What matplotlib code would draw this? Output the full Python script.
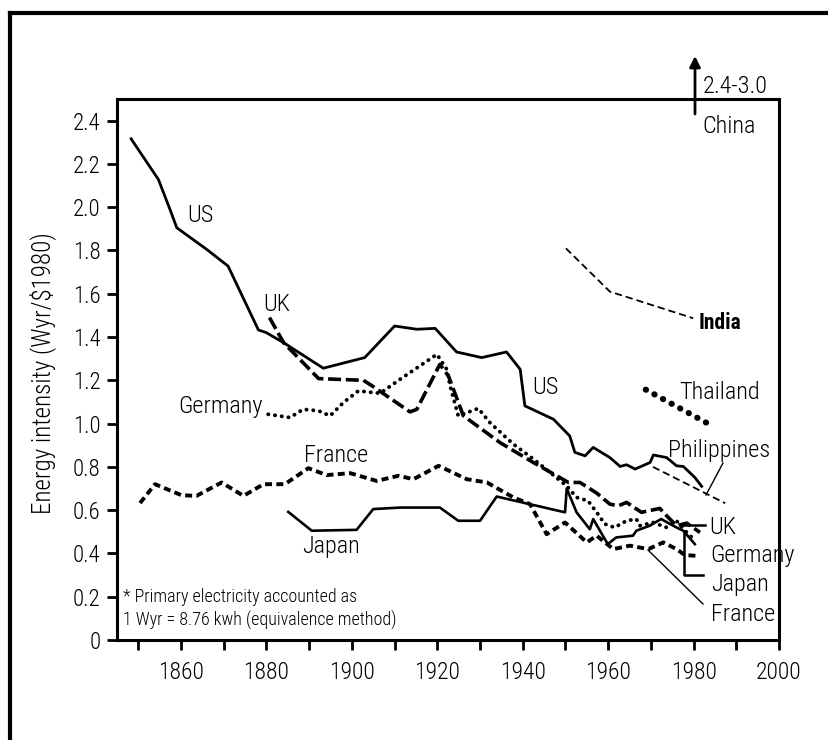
import matplotlib
matplotlib.use("Agg")
import matplotlib.pyplot as plt
from matplotlib.lines import Line2D

plt.rcParams['font.family'] = ['Roboto Condensed', 'Liberation Sans', 'DejaVu Sans']
plt.rcParams['font.weight'] = 300

# energy intensity (Wyr/$1980)
us_years = [1848.3, 1854.7, 1857.4, 1859, 1866, 1871, 1878.1, 1880, 1884, 1893.3, 1903, 1910,
            1915.2, 1919.5, 1924.5, 1930.4, 1936.2, 1939.4, 1940.5, 1947.2, 1951, 1952.2,
            1954.6, 1956.5, 1960.4, 1962.8, 1964.3, 1966.3, 1969.8, 1970.6, 1973.7, 1976,
            1977.6, 1980.3, 1981.9]
us_vals = [2.316, 2.128, 1.99, 1.905, 1.805, 1.728, 1.433, 1.42, 1.374, 1.256, 1.305, 1.451,
           1.436, 1.44, 1.331, 1.305, 1.331, 1.251, 1.082, 1.02, 0.943, 0.867,
           0.851, 0.89, 0.843, 0.802, 0.81, 0.79, 0.82, 0.855, 0.843, 0.805,
           0.802, 0.751, 0.71]

uk_years = [1880.7, 1884, 1892.2, 1902.7, 1905, 1913.6, 1915.2, 1920.6, 1922.6, 1926.1, 1934.7,
            1942.5, 1950.7, 1953.4, 1957.3, 1960.4, 1962.4, 1964.3, 1967.8, 1972.1, 1973.7,
            1976, 1978.4, 1981.5]
uk_vals = [1.49, 1.374, 1.208, 1.2, 1.171, 1.054, 1.066, 1.274, 1.22, 1.036, 0.912,
           0.82, 0.728, 0.728, 0.679, 0.628, 0.62, 0.636, 0.59, 0.608, 0.574,
           0.528, 0.54, 0.497]

de_years = [1880.4, 1885.5, 1888.6, 1892.2, 1894.9, 1898, 1901.5, 1906.6, 1911.3, 1919.9, 1922.2,
            1923, 1924.9, 1929.6, 1932.3, 1937.8, 1942.5, 1950.3, 1952.6, 1955.3, 1957.6,
            1959.2, 1961.5, 1964.3, 1966.6, 1967.4, 1970.5, 1973.7, 1976, 1978, 1979.6]
de_vals = [1.043, 1.028, 1.066, 1.059, 1.036, 1.097, 1.151, 1.14, 1.205, 1.32, 1.251,
           1.174, 1.036, 1.07, 1.005, 0.905, 0.836, 0.712, 0.659, 0.643, 0.582,
           0.536, 0.52, 0.551, 0.559, 0.528, 0.543, 0.52, 0.551, 0.505, 0.474]

fr_years = [1850.4, 1853.9, 1860.1, 1863.6, 1869.5, 1874.6, 1879.3, 1884.3, 1889.8, 1894.1,
            1899.6, 1905.8, 1910.9, 1914.4, 1920.3, 1926.9, 1931.6, 1937.8, 1941.7, 1945.6,
            1949.9, 1955, 1957.3, 1961.2, 1965.1, 1969.4, 1972.9, 1976, 1978, 1980.7]
fr_vals = [0.633, 0.72, 0.669, 0.666, 0.728, 0.666, 0.72, 0.72, 0.794, 0.762,
           0.771, 0.735, 0.759, 0.743, 0.805, 0.743, 0.728, 0.659, 0.628, 0.489,
           0.543, 0.451, 0.482, 0.42, 0.436, 0.42, 0.451, 0.42, 0.392, 0.389]

jp_years = [1885.1, 1890.6, 1901.1, 1905, 1911.3, 1920.6, 1924.9, 1930, 1933.9, 1949.9, 1950.3,
            1952.6, 1955.7, 1956.5, 1959.9, 1961.9, 1965.8, 1966.6, 1969.7, 1972.4, 1976,
            1977.6, 1980.3]
jp_vals = [0.592, 0.505, 0.509, 0.605, 0.612, 0.612, 0.551, 0.551, 0.663, 0.59, 0.70,
           0.59, 0.512, 0.559, 0.443, 0.474, 0.482, 0.505, 0.528, 0.559, 0.52,
           0.505, 0.443]

in_years = [1950.1, 1960.4, 1979.9]
in_vals = [1.81, 1.61, 1.487]

th_years = [1968.8, 1984.3]
th_vals = [1.157, 0.99]

ph_years = [1970.5, 1987.4]
ph_vals = [0.80, 0.632]

y_ticks = [0, 0.2, 0.4, 0.6, 0.8, 1.0, 1.2, 1.4, 1.6, 1.8, 2.0, 2.2, 2.4]
y_labels = ["0", "0.2", "0.4", "0.6", "0.8", "1.0", "1.2", "1.4", "1.6", "1.8", "2.0", "2.2", "2.4"]
x_ticks = [1860, 1880, 1900, 1920, 1940, 1960, 1980, 2000]
x_minor = [1850, 1870, 1890, 1910, 1930, 1950, 1970, 1990]

W, H = 829, 740
fig = plt.figure(figsize=(W / 100, H / 100), dpi=100)
fig.patch.set_facecolor('white')


def fx(x):
    return x / W


def fy(y):
    return 1 - y / H


ax = fig.add_axes([fx(117), fy(640), (779 - 117) / W, (640 - 99) / H])

k = 'black'
ax.plot(us_years, us_vals, color=k, lw=2.0)
ax.plot(uk_years, uk_vals, color=k, lw=2.6, dashes=(3.6, 1.3))
ax.plot(de_years, de_vals, color=k, lw=2.8, dashes=(0.05, 1.7), dash_capstyle='round')
ax.plot(fr_years, fr_vals, color=k, lw=2.8, dashes=(1.8, 1.1))
ax.plot(jp_years, jp_vals, color=k, lw=1.9)
ax.plot(in_years, in_vals, color=k, lw=1.3, dashes=(4, 2.2))
ax.plot(ph_years, ph_vals, color=k, lw=1.3, dashes=(4, 2.2))
ax.plot(th_years, th_vals, color=k, lw=4.4, dashes=(0.05, 1.55), dash_capstyle='round')

ax.set_xlim(1845, 2000)
ax.set_ylim(0, 2.5)
ax.set_xticks(x_ticks)
ax.set_xticks(x_minor, minor=True)
ax.set_yticks(y_ticks)
ax.set_yticklabels(y_labels)
ax.tick_params(which='both', direction='out', length=7, width=2, color=k)
ax.tick_params(axis='x', labelsize=17, pad=8)
ax.tick_params(axis='y', labelsize=16.5, pad=5)
for s in ax.spines.values():
    s.set_linewidth(2.2)

fig.text(fx(43), fy(373), "Energy intensity (Wyr/$1980)", rotation=90,
         ha='center', va='center', fontsize=18)

# series labels (baseline positions)
labels = [
    ("US", 187, 222), ("UK", 263, 311), ("US", 532, 394), ("Germany", 178, 413),
    ("France", 304, 462), ("Japan", 302, 553), ("Thailand", 679, 399),
    ("Philippines", 668, 457), ("UK", 709, 534), ("Germany", 710, 562),
    ("Japan", 711, 591), ("France", 711, 621), ("China", 702, 133), ("2.4-3.0", 703, 93),
]
for txt, x, y in labels:
    fig.text(fx(x), fy(y), txt, ha='left', va='baseline', fontsize=17.5)
fig.text(fx(699), fy(329), "India", ha='left', va='baseline', fontsize=15.5, fontweight='bold')

fig.text(fx(123), fy(602), "* Primary electricity accounted as", ha='left', va='baseline', fontsize=13)
fig.text(fx(123), fy(626), "1 Wyr = 8.76 kwh (equivalence method)", ha='left', va='baseline', fontsize=13)

# pointer lines
pointers = [
    ([723, 706], [463, 495], 1.0),
    ([683, 705], [525, 525], 1.8),
    ([684, 684, 703], [532, 575, 575], 1.8),
    ([648, 703], [550, 604], 1.0),
]
for xs, ys, lw in pointers:
    fig.add_artist(Line2D([fx(v) for v in xs], [fy(v) for v in ys], color=k, lw=lw))

# China arrow off the top of the scale
ax.annotate("", xy=(fx(695), fy(56)), xytext=(fx(695), fy(114)),
            xycoords='figure fraction', textcoords='figure fraction',
            arrowprops=dict(arrowstyle='-|>', color=k, lw=2, mutation_scale=16,
                            shrinkA=0, shrinkB=0))

# outer frame (left and top edges)
fig.add_artist(Line2D([fx(10), fx(10)], [fy(13), 0], color=k, lw=3))
fig.add_artist(Line2D([fx(10), 1], [fy(13), fy(13)], color=k, lw=3))

fig.savefig("out.png", dpi=100, facecolor='white')
